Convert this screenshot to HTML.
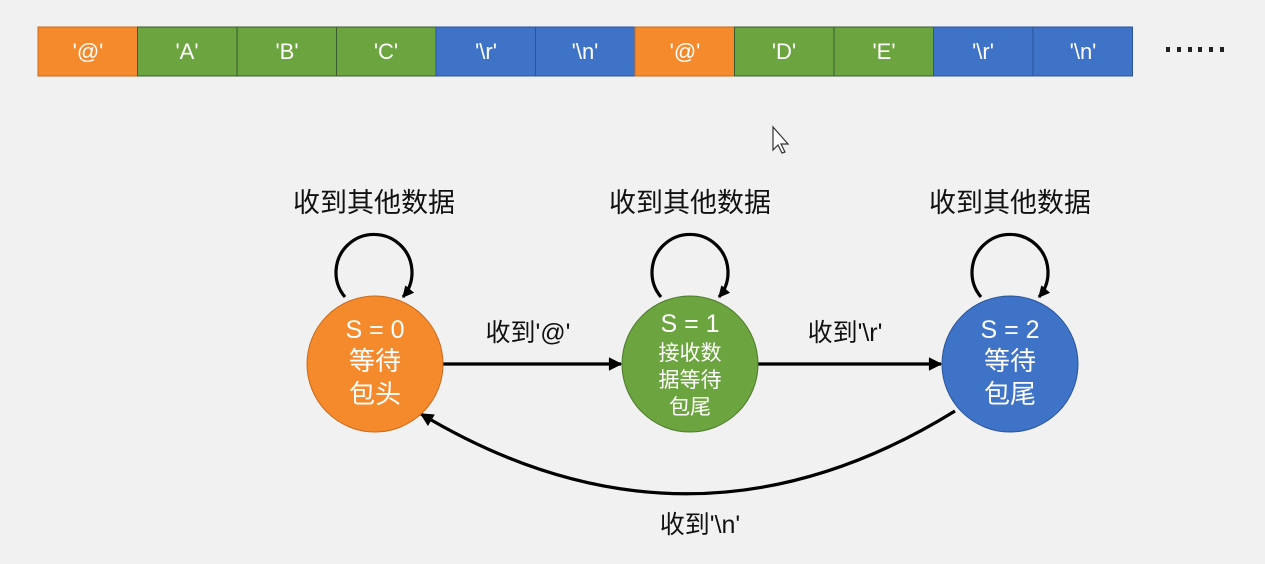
<!DOCTYPE html>
<html><head><meta charset="utf-8"><style>
html,body{margin:0;padding:0;background:#f1f1f1;}
svg{display:block;}
text{font-family:"Liberation Sans","Noto Sans CJK SC",sans-serif;}
</style></head><body>
<svg width="1265" height="564" viewBox="0 0 1265 564" xmlns="http://www.w3.org/2000/svg">
<defs>
<marker id="ah" viewBox="0 0 10 10" refX="9" refY="5" markerWidth="4.8" markerHeight="4.2" markerUnits="strokeWidth" orient="auto"><path d="M0,0 L10,5 L0,10 z" fill="#000"/></marker>
<marker id="ah2" viewBox="0 0 10 10" refX="9" refY="5" markerWidth="4" markerHeight="3.6" markerUnits="strokeWidth" orient="auto"><path d="M0,0 L10,5 L0,10 z" fill="#000"/></marker>
</defs>
<g stroke="#3a5a30" stroke-width="1">
<rect x="38" y="27" width="99.5" height="49" fill="#f58a2c" stroke="#c86a1c"/>
<rect x="137.5" y="27" width="99.5" height="49" fill="#6ca43f"/>
<rect x="237" y="27" width="99.5" height="49" fill="#6ca43f"/>
<rect x="336.5" y="27" width="99.5" height="49" fill="#6ca43f"/>
<rect x="436" y="27" width="99.5" height="49" fill="#3e73c8" stroke="#2a559a"/>
<rect x="535.5" y="27" width="99.5" height="49" fill="#3e73c8" stroke="#2a559a"/>
<rect x="635" y="27" width="99.5" height="49" fill="#f58a2c" stroke="#c86a1c"/>
<rect x="734.5" y="27" width="99.5" height="49" fill="#6ca43f"/>
<rect x="834" y="27" width="99.5" height="49" fill="#6ca43f"/>
<rect x="933.5" y="27" width="99.5" height="49" fill="#3e73c8" stroke="#2a559a"/>
<rect x="1033" y="27" width="99.5" height="49" fill="#3e73c8" stroke="#2a559a"/>
</g>
<g fill="#fff" font-size="22" text-anchor="middle">
<text x="88" y="59">'@'</text>
<text x="187" y="59">'A'</text>
<text x="287" y="59">'B'</text>
<text x="386" y="59">'C'</text>
<text x="486" y="59">'\r'</text>
<text x="585" y="59">'\n'</text>
<text x="685" y="59">'@'</text>
<text x="784" y="59">'D'</text>
<text x="884" y="59">'E'</text>
<text x="983" y="59">'\r'</text>
<text x="1083" y="59">'\n'</text>
</g>
<g fill="#222"><rect x="1166" y="47" width="4" height="5"/><rect x="1177" y="47" width="4" height="5"/><rect x="1188" y="47" width="4" height="5"/><rect x="1198" y="47" width="4" height="5"/><rect x="1209" y="47" width="4" height="5"/><rect x="1220" y="47" width="4" height="5"/></g>
<path d="M773,127 L773,150 L778,145 L782,153 L785,152 L781,144 L788,144 z" fill="#fff" stroke="#333" stroke-width="1.2"/>
<g font-size="27" fill="#111" text-anchor="middle">
<text x="374" y="212">收到其他数据</text>
<text x="690" y="212">收到其他数据</text>
<text x="1010" y="212">收到其他数据</text>
<text x="528" y="341" font-size="25">收到'@'</text>
<text x="845" y="341" font-size="25">收到'\r'</text>
<text x="700" y="533" font-size="25">收到'\n'</text>
</g>
<g fill="none" stroke="#000" stroke-width="3.2">
<path d="M345,297 A38,38 0 1 1 403,297" marker-end="url(#ah2)"/>
<path d="M661,297 A38,38 0 1 1 719,297" marker-end="url(#ah2)"/>
<path d="M981,297 A38,38 0 1 1 1039,297" marker-end="url(#ah2)"/>
<line x1="443" y1="364" x2="621" y2="364" marker-end="url(#ah)"/>
<line x1="758" y1="364" x2="941" y2="364" marker-end="url(#ah)"/>
<path d="M955,411 Q690,575 421,414" marker-end="url(#ah)"/>
</g>
<circle cx="375" cy="364" r="68" fill="#f58a2c" stroke="#c86a1c" stroke-width="1"/>
<circle cx="690" cy="364" r="68" fill="#6ca43f" stroke="#4d7a2c" stroke-width="1"/>
<circle cx="1010" cy="364" r="68" fill="#3e73c8" stroke="#2a559a" stroke-width="1"/>
<g fill="#fff" text-anchor="middle">
<text x="375" y="338" font-size="25">S = 0</text>
<text x="375" y="370" font-size="26">等待</text>
<text x="375" y="403" font-size="26">包头</text>
<text x="690" y="332" font-size="25">S = 1</text>
<text x="690" y="360" font-size="21">接收数</text>
<text x="690" y="387" font-size="21">据等待</text>
<text x="690" y="414" font-size="21">包尾</text>
<text x="1010" y="338" font-size="25">S = 2</text>
<text x="1010" y="370" font-size="26">等待</text>
<text x="1010" y="403" font-size="26">包尾</text>
</g>
</svg>
</body></html>
